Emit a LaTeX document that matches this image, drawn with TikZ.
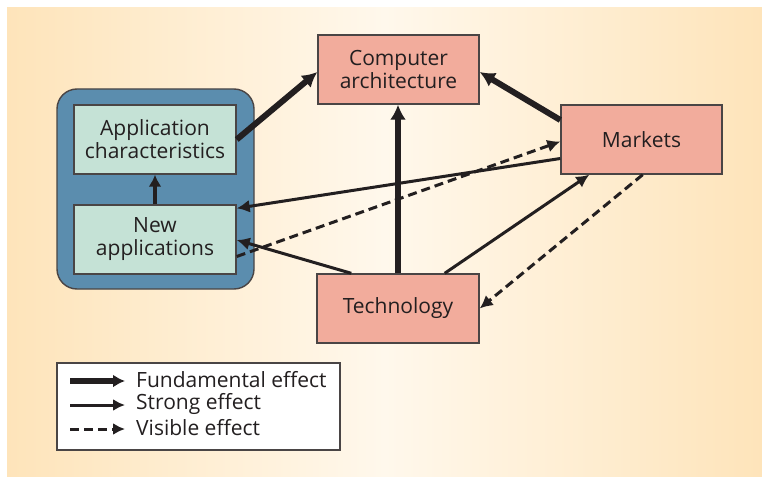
\documentclass[tikz,border=0pt]{standalone}
\usepackage{fontspec}
\setmainfont{Open Sans}
\usetikzlibrary{arrows.meta,calc}
\definecolor{bgo}{HTML}{FEE4BA}
\definecolor{bgm}{HTML}{FFF8EC}
\definecolor{salmon}{HTML}{F2AC9C}
\definecolor{mint}{HTML}{C5E2D6}
\definecolor{steel}{HTML}{5B8DAE}
\definecolor{edge}{HTML}{4A4545}
\definecolor{ink}{HTML}{231F20}
\tikzset{
  box/.style={draw=edge, line width=1.4pt, minimum width=161pt, minimum height=69pt, inner sep=0pt, align=center, text=ink, font=\fontsize{21}{23}\selectfont},
  redbox/.style={box, fill=salmon},
  greenbox/.style={box, fill=mint},
  fund/.style={draw=ink, line width=6pt, -{Latex[length=15pt,width=16pt]}},
  strong/.style={draw=ink, line width=3pt, -{Latex[length=13pt,width=13pt]}},
  medium/.style={draw=ink, line width=3.2pt, -{Latex[length=12pt,width=13pt]}},
  visible/.style={draw=ink, line width=3pt, dash pattern=on 9pt off 5pt, -{Latex[length=13pt,width=13pt]}},
  legtext/.style={anchor=west, inner sep=0pt, text=ink, font=\fontsize{21}{23}\selectfont}
}
\begin{document}
\begin{tikzpicture}[x=1pt,y=-1pt]
\useasboundingbox (0,0) rectangle (762,476);
\shade[left color=bgo, right color=bgo, middle color=bgm] (7,8) rectangle (762,476);
% blue container
\node[draw=edge, line width=1.4pt, fill=steel, rounded corners=20pt, minimum width=197pt, minimum height=200pt, inner sep=0pt] (group) at (155.5,189) {};
% nodes
\node[redbox] (comp) at (398.5,69.5) {Computer\\architecture};
\node[redbox] (mark) at (641.5,139.5) {Markets};
\node[redbox, minimum width=162pt] (tech) at (398,308.5) {Technology};
\node[greenbox, minimum width=162pt] (appc) at (155,139.5) {Application\\characteristics};
\node[greenbox, minimum width=162pt] (newa) at (155,239.5) {New\\applications};
% connectors
\draw[fund] (appc.east) -- ($(comp.west)+(0,2.5)$);
\draw[fund] ($(mark.west)+(0,-19.5)$) -- ($(comp.east)+(0,2.5)$);
\draw[fund] (tech.north) -- (tech.north |- comp.south);
\draw[medium] (newa.north) -- (appc.south);
\draw[strong] ($(mark.west)+(0,19)$) -- ($(newa.north east)+(0,4)$);
\draw[visible] ($(newa.east)+(0,17)$) -- ($(mark.west)+(0,2)$);
\draw[strong] ($(tech.north west)+(35,0)$) -- ($(newa.east)+(0,0.5)$);
\draw[strong] ($(tech.north east)+(-35,0)$) -- ($(mark.south west)+(29,0)$);
\draw[visible] ($(mark.south east)+(-80,0)$) -- (tech.east);
% legend
\node[draw=edge, line width=1.3pt, fill=white, minimum width=283pt, minimum height=87pt, inner sep=0pt] (legend) at (198.5,406.5) {};
\coordinate (l1a) at (70,381); \coordinate (l1b) at (125,381);
\coordinate (l2a) at (70,405); \coordinate (l2b) at (125,405);
\coordinate (l3a) at (70,429); \coordinate (l3b) at (125,429);
\draw[ink, line width=6pt, -{Latex[length=12pt,width=13pt]}] (l1a) -- (l1b);
\draw[ink, line width=3pt, -{Latex[length=12pt,width=12pt]}] (l2a) -- (l2b);
\draw[ink, line width=3pt, dash pattern=on 9pt off 5pt, -{Latex[length=12pt,width=12pt]}] (l3a) -- (l3b);
\node[legtext] (t1) at (136,380) {Fundamental effect};
\node[legtext] (t2) at (136,404) {Strong effect};
\node[legtext] (t3) at (136,428) {Visible effect};
\end{tikzpicture}
\end{document}
